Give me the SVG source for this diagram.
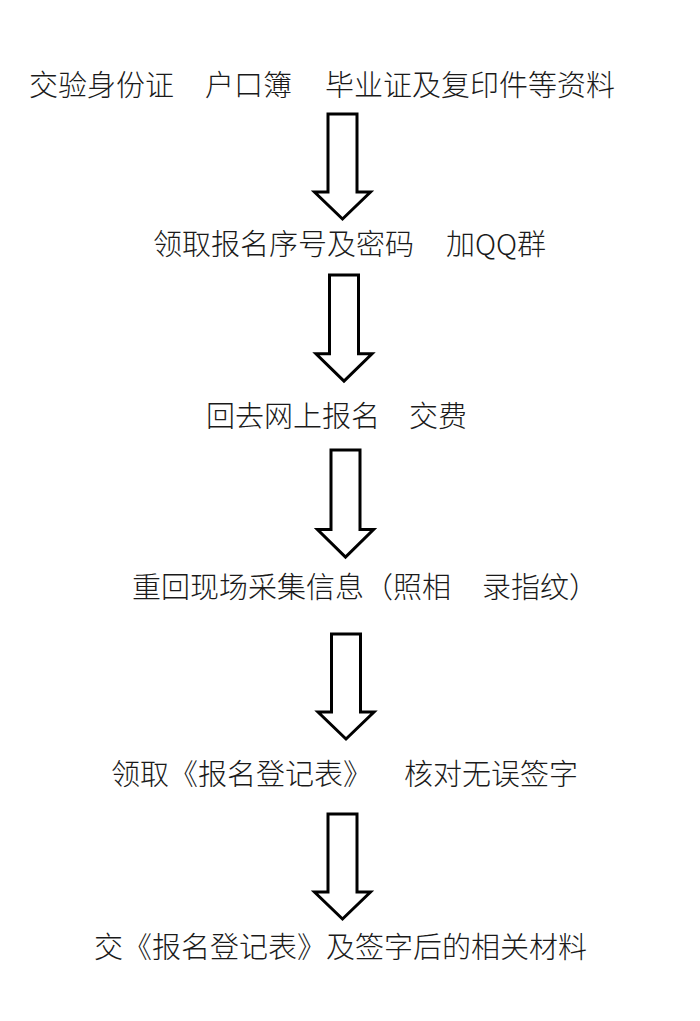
<svg xmlns="http://www.w3.org/2000/svg" xmlns:xlink="http://www.w3.org/1999/xlink" width="700" height="1021" viewBox="0 0 700 1021">
  <style>
    .lbl { font-family: "Noto Sans CJK SC", "Noto Sans", sans-serif; font-size: 29px; font-weight: 300; fill: #1a1a1a; }
    .arrow { fill: #ffffff; stroke: #000000; stroke-width: 3; stroke-linejoin: miter; }
  </style>
  <defs>
    <polygon id="downArrow" class="arrow" points="-14.5,0 14.5,0 14.5,78 28,78 0,105 -28,78 -14.5,78"/>
  </defs>
  <rect width="700" height="1021" fill="#ffffff"/>

  <g id="step1">
    <text class="lbl" y="96"><tspan x="29">交验身份证</tspan> <tspan x="205">户口簿</tspan> <tspan x="325">毕业证及复印件等资料</tspan></text>
  </g>
  <g id="step2">
    <text class="lbl" y="255"><tspan x="153">领取报名序号及密码</tspan> <tspan x="446">加</tspan> <tspan x="475">QQ</tspan> <tspan x="517">群</tspan></text>
  </g>
  <g id="step3">
    <text class="lbl" y="427"><tspan x="206">回去网上报名</tspan> <tspan x="409">交费</tspan></text>
  </g>
  <g id="step4">
    <text class="lbl" y="598"><tspan x="132">重回现场采集信息（照相</tspan> <tspan x="482">录指纹）</tspan></text>
  </g>
  <g id="step5">
    <text class="lbl" y="785"><tspan x="111">领取《报名登记表》</tspan> <tspan x="404">核对无误签字</tspan></text>
  </g>
  <g id="step6">
    <text class="lbl" y="958" x="94">交《报名登记表》及签字后的相关材料</text>
  </g>

  <g id="connectors">
    <use xlink:href="#downArrow" href="#downArrow" transform="translate(342.5,114)"/>
    <use xlink:href="#downArrow" href="#downArrow" transform="translate(344,275) scale(1,1.01)"/>
    <use xlink:href="#downArrow" href="#downArrow" transform="translate(345.5,450) scale(1,1.02)"/>
    <use xlink:href="#downArrow" href="#downArrow" transform="translate(346,634)"/>
    <use xlink:href="#downArrow" href="#downArrow" transform="translate(342.5,814)"/>
  </g>
</svg>
